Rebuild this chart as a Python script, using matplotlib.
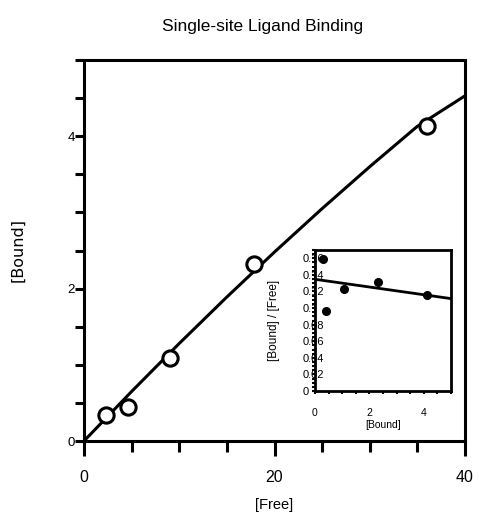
import matplotlib
matplotlib.use("Agg")
import matplotlib.pyplot as plt
from matplotlib.ticker import MultipleLocator, FixedLocator

plt.rcParams['font.family'] = ['Liberation Sans', 'DejaVu Sans']

# main saturation data (open circles)
free = [2.3, 4.6, 9.0, 17.8, 36.0]
bound = [0.34, 0.44, 1.09, 2.32, 4.14]

# fitted curve
curve_free = [0, 5, 10, 15, 20, 25, 30, 35, 40]
curve_bound = [0, 0.65, 1.28, 1.89, 2.48, 3.05, 3.60, 4.13, 4.53]

# Scatchard inset (filled circles)
sc_bound = [0.28, 0.41, 1.05, 2.30, 4.10]
sc_ratio = [0.159, 0.097, 0.123, 0.131, 0.1155]
sc_line_x = [0, 5]
sc_line_y = [0.1347, 0.1114]

W, H = 479, 516
fig = plt.figure(figsize=(W / 100, H / 100), dpi=100)

# ---- main axes ----
ax = fig.add_axes([84 / W, 1 - 441 / H, 381 / W, 381 / H])
ax.plot(curve_free, curve_bound, color='black', lw=2.2, zorder=2)
ax.plot(free, bound, 'o', ms=11, mfc='white', mec='black', mew=2.2, zorder=3, clip_on=False)
ax.set_xlim(0, 40)
ax.set_ylim(0, 5)
for s in ax.spines.values():
    s.set_linewidth(2.2)
ax.xaxis.set_major_locator(FixedLocator([0, 20, 40]))
ax.xaxis.set_minor_locator(MultipleLocator(5))
ax.yaxis.set_major_locator(FixedLocator([0, 2, 4]))
ax.yaxis.set_minor_locator(MultipleLocator(0.5))
ax.tick_params(axis='x', which='major', direction='out', length=11, width=2.2, pad=10, labelsize=11.5)
ax.tick_params(axis='x', which='minor', direction='out', length=8, width=2.2)
ax.tick_params(axis='y', which='both', direction='out', length=6.5, width=2.2, pad=0, labelsize=9.5)
ax.set_xlabel('[Free]', fontsize=10.5)
ax.xaxis.set_label_coords(0.5, -0.1496)
ax.set_ylabel('[Bound]', fontsize=11.5, family=['DejaVu Sans'])
ax.yaxis.set_label_coords(-0.155, 0.5)

fig.text(263 / W, 1 - 26 / H, 'Single-site Ligand Binding', ha='center', va='center', fontsize=12.5)

# ---- inset (Scatchard) ----
ins = fig.add_axes([315 / W, 1 - 391 / H, 136 / W, 141 / H])
ins.plot(sc_line_x, sc_line_y, color='black', lw=2.0, zorder=2)
ins.plot(sc_bound, sc_ratio, 'o', ms=5.5, mfc='black', mec='black', zorder=3, clip_on=False)
ins.set_xlim(0, 5)
ins.set_ylim(0, 0.17)
for s in ins.spines.values():
    s.set_linewidth(2.0)
ins.xaxis.set_major_locator(FixedLocator([0, 2, 4]))
ins.xaxis.set_minor_locator(MultipleLocator(0.5))
ins.yaxis.set_major_locator(FixedLocator([0, 0.02, 0.04, 0.06, 0.08, 0.1, 0.12, 0.14, 0.16]))
ins.yaxis.set_minor_locator(MultipleLocator(0.005))
ins.set_yticklabels(['0', '0.02', '0.04', '0.06', '0.08', '0.1', '0.12', '0.14', '0.16'])
ins.tick_params(axis='x', which='both', direction='out', length=2.5, width=1.5, pad=10, labelsize=7.5)
ins.tick_params(axis='y', which='both', direction='out', length=2, width=1.5, pad=7, labelsize=8)
for lab in ins.get_yticklabels():
    lab.set_horizontalalignment('left')
ins.set_xlabel('[Bound]', fontsize=7.5)
ins.xaxis.set_label_coords(0.5, -0.206)
ins.set_ylabel('[Bound] / [Free]', fontsize=8.5)
ins.yaxis.set_label_coords(-0.257, 0.5)

fig.savefig('out.png', dpi=100)
